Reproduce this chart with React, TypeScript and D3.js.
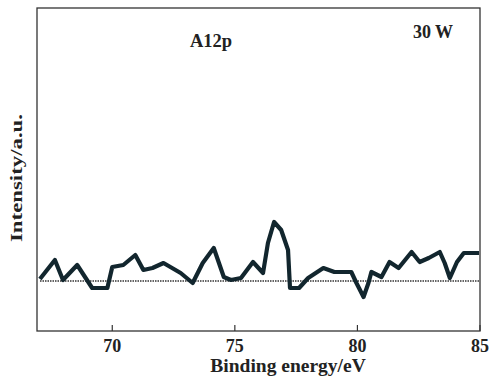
import React from "react";
import * as d3 from "d3";

const energy = [67.05, 67.66, 67.99, 68.57, 69.18, 69.8, 70.0, 70.45, 70.94, 71.27, 71.64, 72.09, 72.79, 73.28, 73.69, 74.14, 74.55, 74.84, 75.25, 75.74, 76.15, 76.35, 76.6, 76.89, 77.17, 77.25, 77.62, 77.99, 78.61, 79.06, 79.75, 79.96, 80.25, 80.45, 80.57, 80.98, 81.31, 81.68, 82.21, 82.54, 82.91, 83.36, 83.56, 83.77, 84.06, 84.34, 84.96];
const intensity = [2, 21, 1, 16, -7, -7, 14, 16, 26, 11, 13, 18, 8, -2, 18, 33, 4, 1, 3, 19, 8, 38, 59, 51, 31, -7, -7, 3, 13, 9, 9, -2, -16, -2, 9, 4, 19, 13, 29, 19, 23, 29, 18, 3, 19, 28, 28];
const xTicks = [70, 75, 80, 85];
const baselineValue = 0;

export default function App() {
  const W = 492, H = 381;
  const left = 37, right = 480, top = 8, bottom = 331;
  const x = d3.scaleLinear().domain([66.93, 85]).range([left, right]);
  const y = d3.scaleLinear().domain([-50, 273]).range([bottom, top]);
  const pts = energy.map((e, i) => [e, intensity[i]] as [number, number]);
  const line = d3.line<[number, number]>().x(d => x(d[0])).y(d => y(d[1])).curve(d3.curveLinear);
  const font = "'Liberation Serif', 'Times New Roman', serif";
  return (
    <svg width={W} height={H} style={{ position: "absolute", left: 0, top: 0, background: "#fff" }}>
      <rect x={left} y={top} width={right - left} height={bottom - top} fill="none" stroke="#333" strokeWidth={1.3} />
      {xTicks.map(t => (
        <g key={t}>
          <line x1={x(t)} x2={x(t)} y1={bottom} y2={bottom - 6} stroke="#333" strokeWidth={1.2} />
          <text x={x(t)} y={352} textAnchor="middle" fontFamily={font} fontWeight="bold" fontSize={18} fill="#222">{t}</text>
        </g>
      ))}
      <line x1={left + 3} x2={right} y1={y(baselineValue)} y2={y(baselineValue)} stroke="#333" strokeWidth={1.6} strokeDasharray="1.5,1" />
      <path d={line(pts) || ""} fill="none" stroke="#12262e" strokeWidth={4.2} strokeLinejoin="round" />
      <text x={288} y={372} textAnchor="middle" fontFamily={font} fontWeight="bold" fontSize={19.5} fill="#222">Binding energy/eV</text>
      <text transform={`translate(22,178) rotate(-90)`} textAnchor="middle" fontFamily={font} fontWeight="bold" fontSize={17} textLength={128} lengthAdjust="spacingAndGlyphs" fill="#222">Intensity/a.u.</text>
      <text x={211} y={47} textAnchor="middle" fontFamily={font} fontWeight="bold" fontSize={18.5} fill="#222">A12p</text>
      <text x={433} y={38} textAnchor="middle" fontFamily={font} fontWeight="bold" fontSize={18} fill="#222">30 W</text>
    </svg>
  );
}
